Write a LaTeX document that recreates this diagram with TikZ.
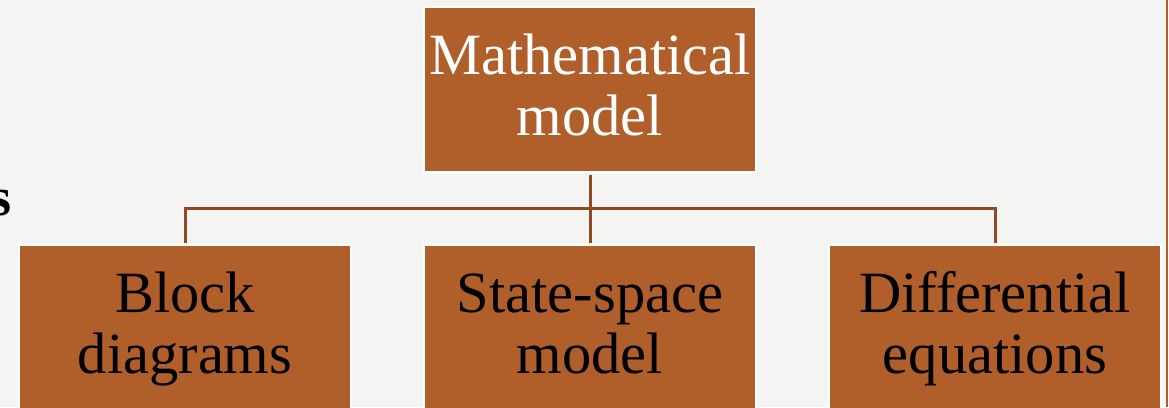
\documentclass[tikz,border=0pt]{standalone}
\usepackage{fontspec}
\setmainfont{Liberation Serif}
\usepackage{tikz}
\usetikzlibrary{positioning}
\definecolor{rust}{HTML}{B05F2B}
\definecolor{rustdark}{HTML}{8E4A22}
\definecolor{paper}{HTML}{F4F4F2}
\newcommand{\vst}{\rule[-15pt]{0pt}{61pt}}
\tikzset{
  blk/.style={draw=white, line width=1.5pt, fill=rust, minimum width=332pt, minimum height=165pt, text width=326pt, align=center, inner sep=0pt, outer sep=0pt, font=\fontsize{58.5}{61}\selectfont},
  headblk/.style={blk, text=white},
  subblk/.style={blk, text=black},
  link/.style={draw=rustdark, line width=3pt, shorten <=2.5pt, shorten >=2.5pt},
  rim/.style={draw=rust, line width=2pt}
}

\begin{document}
\begin{tikzpicture}[x=1pt, y=-1pt, node distance=73pt]
\fill[paper] (0,0) rectangle (1169,407);
\useasboundingbox (0,0) rectangle (1169,407);
\draw[rim] (1167,0) -- (1167,407);
\node[anchor=base east, inner sep=0pt, font=\fontsize{54}{60}\selectfont\bfseries] (cut) at (12,215) {s};
\node[headblk] (mm) at (590,89.5) {\vst Mathematical\\\vst model};
\node[subblk, below=of mm] (ss) {\vst State-space\\\vst model};
\node[subblk, left=of ss] (bd) {\vst Block\\\vst diagrams};
\node[subblk, right=of ss] (de) {\vst Differential\\\vst equations};
\coordinate[below=36.5pt of mm] (bus);
\draw[link] (mm) -- (ss);
\draw[link] (bd.north) |- (bus) -| (de.north);
\end{tikzpicture}
\end{document}
